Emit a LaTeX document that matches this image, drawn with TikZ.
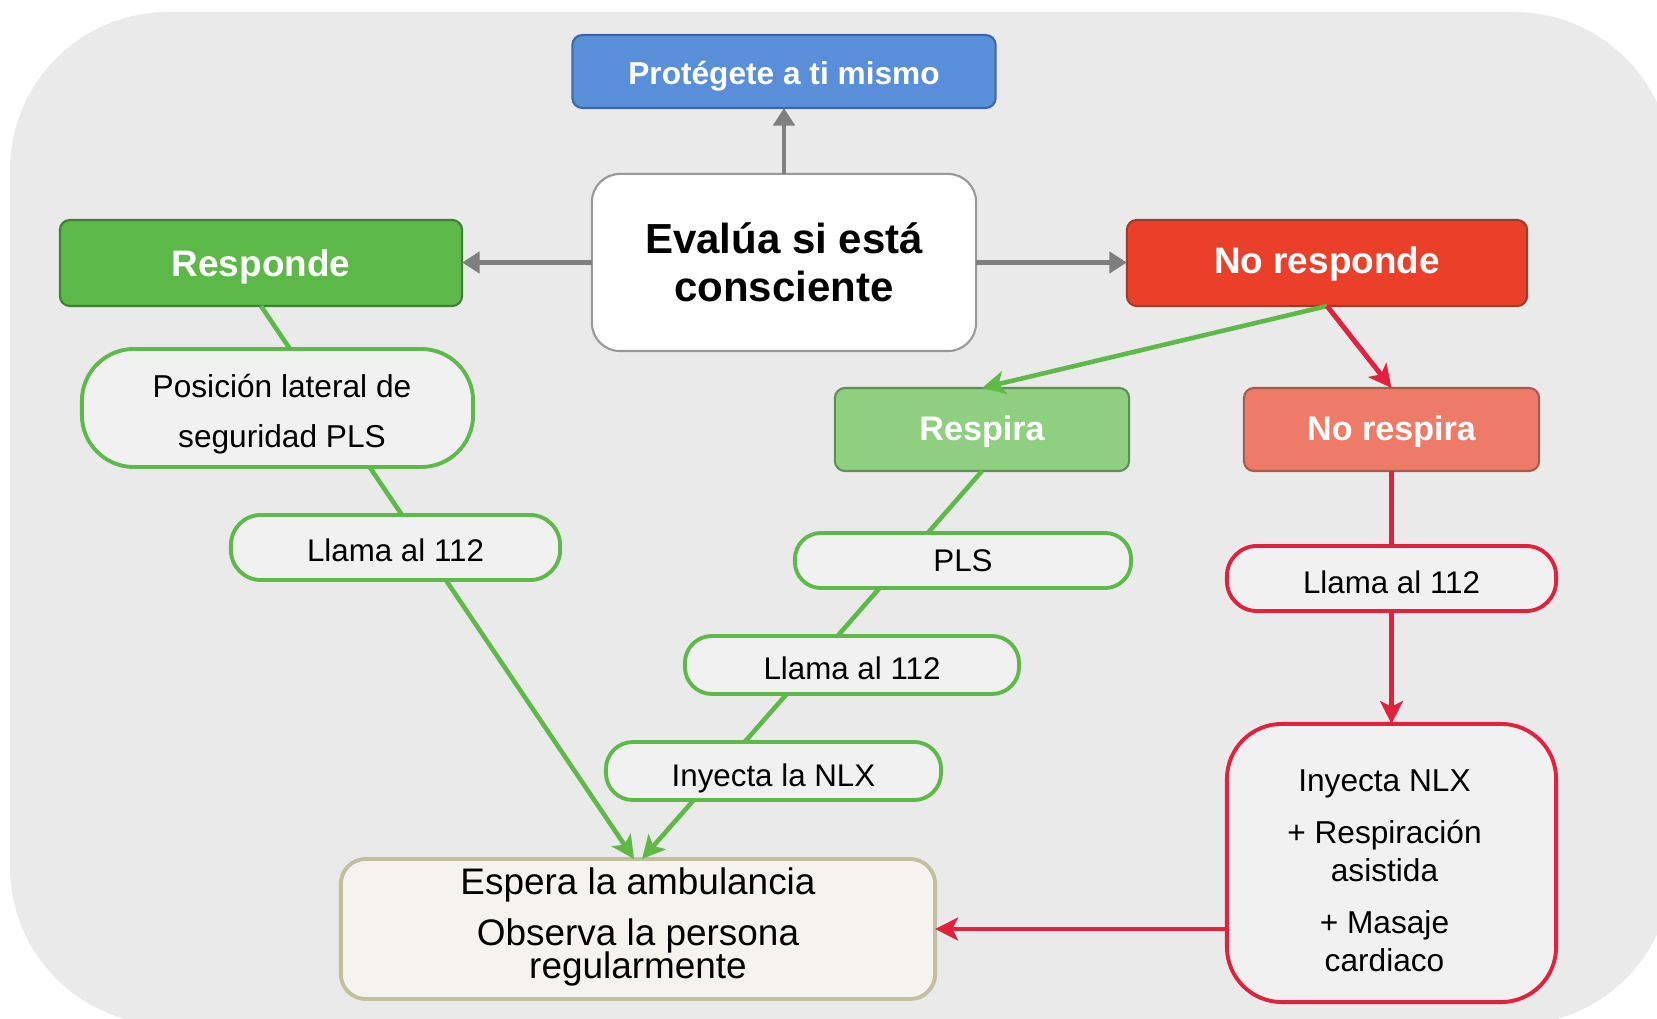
\documentclass[tikz,border=0pt]{standalone}
\usepackage{fontspec}
\setmainfont{Liberation Sans}
\usetikzlibrary{arrows.meta,calc}
\definecolor{bgc}{HTML}{EAEAEA}
\definecolor{bluef}{HTML}{598ED8}
\definecolor{blued}{HTML}{3B66A8}
\definecolor{greenf}{HTML}{5CB947}
\definecolor{greend}{HTML}{3E7F35}
\definecolor{redf}{HTML}{EA402A}
\definecolor{redd}{HTML}{9E3B30}
\definecolor{lgreenf}{HTML}{8FCF80}
\definecolor{lgreend}{HTML}{5F8F58}
\definecolor{lredf}{HTML}{EE7A68}
\definecolor{lredd}{HTML}{A65A50}
\definecolor{pillf}{HTML}{F1F1F1}
\definecolor{gline}{HTML}{5DBA48}
\definecolor{rline}{HTML}{E3213C}
\definecolor{grayl}{HTML}{7F7F7F}
\definecolor{esperaf}{HTML}{F5F3ED}
\definecolor{esperad}{HTML}{C2BEA0}
\newcommand\myup[1]{\rule{0pt}{#1}}
\newcommand\mydn[1]{\rule[-#1]{0pt}{#1}}
\newcommand\mypad[1]{\rule{#1}{0pt}}
\newcommand\mynoskip{\lineskiplimit -20pt\relax\lineskip 0pt\relax}
\tikzset{
  every node/.style={inner sep=0pt, outer sep=0pt},
  cbox/.style={draw=#1, line width=0.6pt, rounded corners=0.1cm, text=white},
  gpill/.style={draw=gline, fill=pillf, line width=1.1pt, font=\fontsize{8.9}{10.7}\selectfont},
  rpill/.style={draw=rline, fill=pillf, line width=1.1pt, font=\fontsize{8.9}{10.7}\selectfont},
  grayarrow/.style={draw=grayl, line width=1.4pt, -{Triangle[length=5pt,width=6pt]}},
  greenseg/.style={draw=gline, line width=1.3pt},
  greenarrow/.style={draw=gline, line width=1.3pt, -{Stealth[length=6.5pt,width=6.5pt,inset=1.6pt]}},
  redseg/.style={draw=rline, line width=1.4pt},
  redarrow/.style={draw=rline, line width=1.4pt, -{Stealth[length=6.5pt,width=6.5pt,inset=1.6pt]}},
}
\begin{document}
\begin{tikzpicture}[x=0.01cm, y=-0.01cm]
\useasboundingbox (0,0) rectangle (1657,1019);
\fill[white] (0,0) rectangle (1657,1019);
\fill[bgc, rounded corners=1.58cm] (10,12) rectangle (1672,1025);

% nodes
\node[cbox=blued, fill=bluef, minimum width=4.23cm, minimum height=0.73cm,
      text height=9.39pt, text depth=1.99pt,
      font=\bfseries\fontsize{9}{11}\selectfont] (prot) at (784,71.5) {Protégete a ti mismo};
\node[draw=grayl!80, fill=white, line width=0.6pt, rounded corners=0.28cm,
      minimum width=3.84cm, minimum height=1.77cm, align=center,
      font=\bfseries\fontsize{11.95}{13.54}\selectfont\mynoskip] (eval) at (784,262.5)
      {\myup{11.95pt}Evalúa si está\\consciente\mydn{3.47pt}};
\node[cbox=greend, fill=greenf, minimum width=4.02cm, minimum height=0.86cm,
      text height=10.24pt, text depth=2.28pt,
      font=\bfseries\fontsize{10.5}{12}\selectfont] (resp) at (261,263) {Responde};
\node[cbox=redd, fill=redf, minimum width=4.00cm, minimum height=0.86cm,
      text height=8.37pt, text depth=2.28pt,
      font=\bfseries\fontsize{10.5}{12}\selectfont] (nresp) at (1327,263) {No responde};
\node[cbox=lgreend, fill=lgreenf, minimum width=2.94cm, minimum height=0.83cm,
      text height=8.51pt, text depth=2.13pt,
      font=\bfseries\fontsize{9.7}{11}\selectfont] (respira) at (982,429.5) {Respira};
\node[cbox=lredd, fill=lredf, minimum width=2.95cm, minimum height=0.83cm,
      text height=8.51pt, text depth=2.13pt,
      font=\bfseries\fontsize{9.7}{11}\selectfont] (nrespira) at (1391.5,429.5) {No respira};

\node[gpill, rounded corners=0.52cm, minimum width=3.91cm, minimum height=1.18cm, align=center,
      font=\fontsize{9}{14.5}\selectfont\mynoskip] (pos) at (277.5,408)
      {\mypad{0.09cm}\myup{10.24pt}Posición lateral de\\\mypad{0.09cm}seguridad PLS\mydn{1.99pt}};
\node[gpill, rounded corners=0.3cm, minimum width=3.29cm, minimum height=0.65cm,
      text height=7.97pt, text depth=0pt] (llamaL) at (395.5,547.5) {Llama al 112};
\node[gpill, rounded corners=0.26cm, minimum width=3.36cm, minimum height=0.55cm,
      text height=6.54pt, text depth=0pt] (pls) at (963,560.5) {PLS};
\node[gpill, rounded corners=0.27cm, minimum width=3.34cm, minimum height=0.58cm,
      text height=7.97pt, text depth=0pt] (llamaM) at (852,665) {Llama al 112};
\node[gpill, rounded corners=0.27cm, minimum width=3.35cm, minimum height=0.58cm,
      text height=10.53pt, text depth=1.99pt] (iny) at (773.5,771) {Inyecta la NLX};
\node[draw=esperad, fill=esperaf, line width=1.1pt, rounded corners=0.25cm,
      minimum width=5.94cm, minimum height=1.40cm, align=center,
      font=\fontsize{10.5}{9.39}\selectfont\mynoskip] (espera) at (638,929)
      {\myup{8.25pt}Espera la ambulancia\\[4.84pt]Observa la persona\\regularmente\mydn{3.98pt}};
\node[rpill, rounded corners=0.3cm, minimum width=3.29cm, minimum height=0.65cm,
      text height=8.54pt, text depth=0pt] (llamaR) at (1391.5,578.5) {Llama al 112};
\node[rpill, rounded corners=0.55cm, minimum width=3.29cm, minimum height=2.78cm, align=center,
      font=\fontsize{9}{10.81}\selectfont\mynoskip] (big) at (1391.5,863)
      {\myup{10.81pt}Inyecta NLX\mypad{0.14cm}\\[3.98pt]+ Respiración\mypad{0.14cm}\\asistida\mypad{0.14cm}\\[3.98pt]+ Masaje\mypad{0.14cm}\\cardiaco\mypad{0.14cm}\mydn{0.17pt}};

\coordinate (eL) at ([xshift=-0.04cm]espera.north);
\coordinate (eR) at ([xshift=0.04cm]espera.north);

% gray connectors
\draw[grayarrow] (eval.north) -- (prot.south);
\draw[grayarrow] (eval.west) -- (eval.west -| resp.east);
\draw[grayarrow] (eval.east) -- (eval.east -| nresp.west);

% left chain
\draw[greenseg] (resp.south) -- (intersection of resp.south--eL and pos.north west--pos.north east);
\draw[greenseg] (intersection of resp.south--eL and pos.south west--pos.south east)
             -- (intersection of resp.south--eL and llamaL.north west--llamaL.north east);
\draw[greenarrow] (intersection of resp.south--eL and llamaL.south west--llamaL.south east) -- (eL);

% middle chain
\draw[greenarrow] (nresp.south) -- (respira.north);
\draw[greenseg] (respira.south) -- (intersection of respira.south--eR and pls.north west--pls.north east);
\draw[greenseg] (intersection of respira.south--eR and pls.south west--pls.south east)
             -- (intersection of respira.south--eR and llamaM.north west--llamaM.north east);
\draw[greenseg] (intersection of respira.south--eR and llamaM.south west--llamaM.south east)
             -- (intersection of respira.south--eR and iny.north west--iny.north east);
\draw[greenarrow] (intersection of respira.south--eR and iny.south west--iny.south east) -- (eR);

% right chain
\draw[redarrow] (nresp.south) -- (nrespira.north);
\draw[redseg] (nrespira.south) -- (llamaR.north);
\draw[redarrow] (llamaR.south) -- (big.north);
\draw[redarrow] (espera.east -| big.west) -- (espera.east);
\end{tikzpicture}
\end{document}
